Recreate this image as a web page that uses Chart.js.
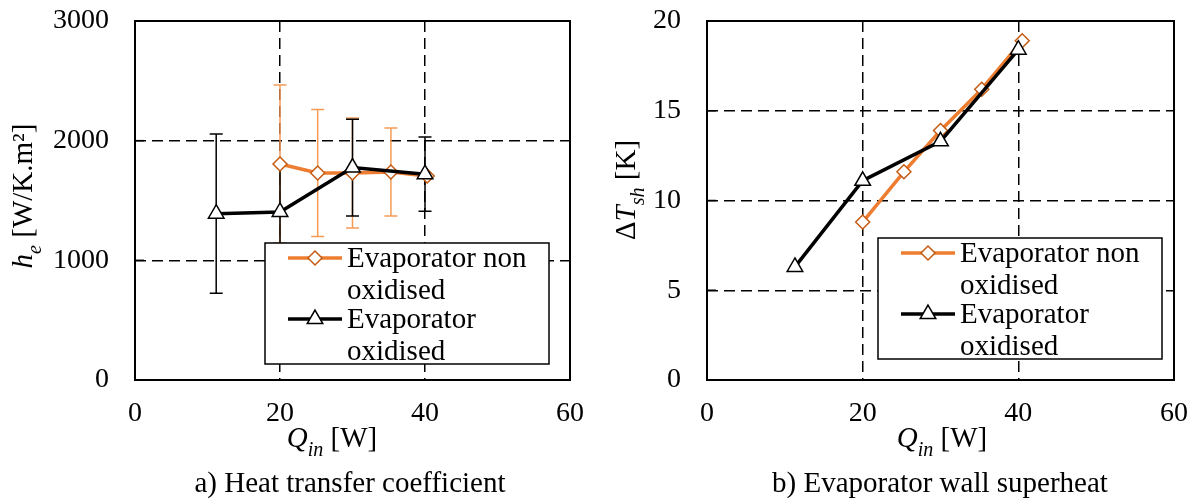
<!DOCTYPE html>
<html lang="en">
<head>
    <meta charset="UTF-8">
    <title>Evaporator heat transfer and wall superheat</title>
    <script src="https://cdn.jsdelivr.net/npm/chart.js"></script>
    <style>
        body { margin: 0; background: #fff; }
        #wrap { position: relative; width: 1199px; height: 500px; }
        canvas { position: absolute; top: 0; }
        .caption { position: absolute; top: 468px; font-family: "Liberation Serif", serif; font-size: 29px; line-height: 1; color: #000; transform: translateX(-50%); white-space: nowrap; }
    </style>
</head>
<body>
<div id="wrap">
    <canvas id="chartA" width="600" height="500" style="left:0"></canvas>
    <canvas id="chartB" width="599" height="500" style="left:600px"></canvas>
    <div class="caption" style="left:350px">a) Heat transfer coefficient</div>
    <div class="caption" style="left:940px">b) Evaporator wall superheat</div>
</div>
<script>
    const seriesNames = [['Evaporator non', 'oxidised'], ['Evaporator', 'oxidised']];

    // a) heat transfer coefficient h_e [W/K.m2]
    const qNonOxA = [20, 25.2, 30, 35.3, 40.3];
    const hNonOx = [1805, 1730, 1730, 1738, 1705];
    const hNonOxErr = [660, 530, 460, 368, null];
    const qOxA = [11.2, 20, 30, 40];
    const hOx = [1390, 1404, 1775, 1720];
    const hOxErr = [665, 400, 405, 310];

    // b) evaporator wall superheat dT_sh [K]
    const qNonOxB = [20, 25.3, 30, 35.3, 40.5];
    const dtNonOx = [8.8, 11.6, 13.9, 16.2, 18.9];
    const qOxB = [11.3, 20, 30, 40];
    const dtOx = [6.3, 11.1, 13.3, 18.4];

    const FONT = '"Liberation Serif", "Times New Roman", serif';
    const ORANGE = '#ED7D31';
    const ORANGE_EDGE = '#C55A11';
    const ORANGE_ERR = '#F59B55';

    function points(xs, ys) {
        return xs.map((x, i) => ({ x: x, y: ys[i] }));
    }

    // draws a run of text pieces (italic / subscript) centred on 0,0
    function drawRich(ctx, parts, size) {
        const fontOf = p => (p.italic ? 'italic ' : '') + (p.sub ? Math.round(size * 0.68) : size) + 'px ' + FONT;
        let total = 0;
        parts.forEach(p => { ctx.font = fontOf(p); total += ctx.measureText(p.t).width; });
        let x = -total / 2;
        ctx.fillStyle = '#000';
        ctx.textBaseline = 'alphabetic';
        ctx.textAlign = 'left';
        parts.forEach(p => {
            ctx.font = fontOf(p);
            ctx.fillText(p.t, x, p.sub ? size * 0.3 : 0);
            x += ctx.measureText(p.t).width;
        });
    }

    function drawMarker(ctx, style, x, y, r) {
        if (style === 'rectRot') {
            ctx.moveTo(x, y - r); ctx.lineTo(x + r, y); ctx.lineTo(x, y + r); ctx.lineTo(x - r, y); ctx.closePath();
        } else {
            ctx.moveTo(x, y - r); ctx.lineTo(x + r * 0.866, y + r * 0.5); ctx.lineTo(x - r * 0.866, y + r * 0.5); ctx.closePath();
        }
    }

    const extras = {
        id: 'extras',
        beforeDatasetsDraw(chart, args, opts) {
            const ctx = chart.ctx;
            const xs = chart.scales.x, ys = chart.scales.y;
            const a = chart.chartArea;
            // short inside tick marks on the y axis
            ctx.save();
            ctx.strokeStyle = '#000';
            ctx.lineWidth = 1.5;
            ys.ticks.forEach(t => {
                const py = ys.getPixelForValue(t.value);
                ctx.beginPath();
                ctx.moveTo(a.left, py); ctx.lineTo(a.left + 9, py);
                ctx.stroke();
            });
            ctx.restore();
            // error bars under the lines
            (opts.errors || []).forEach(e => {
                const ds = chart.data.datasets[e.dataset];
                ctx.save();
                ctx.strokeStyle = e.color;
                ctx.lineWidth = 1.5;
                ds.data.forEach((p, i) => {
                    const err = e.values[i];
                    if (err == null) return;
                    const px = xs.getPixelForValue(p.x);
                    const top = ys.getPixelForValue(p.y + err);
                    const bot = ys.getPixelForValue(p.y - err);
                    ctx.beginPath();
                    ctx.moveTo(px, top); ctx.lineTo(px, bot);
                    ctx.moveTo(px - 6.5, top); ctx.lineTo(px + 6.5, top);
                    ctx.moveTo(px - 6.5, bot); ctx.lineTo(px + 6.5, bot);
                    ctx.stroke();
                });
                ctx.restore();
            });
        },
        afterDatasetsDraw(chart, args, opts) {
            const ctx = chart.ctx;
            const a = chart.chartArea;
            // frame around the plot
            ctx.save();
            ctx.strokeStyle = '#000';
            ctx.lineWidth = 2;
            ctx.strokeRect(a.left, a.top, a.right - a.left, a.bottom - a.top);

            // legend box inside plot
            const L = opts.legend;
            ctx.fillStyle = '#fff';
            ctx.fillRect(L.x, L.y, L.w, L.h);
            ctx.lineWidth = 1.5;
            ctx.strokeRect(L.x, L.y, L.w, L.h);
            const rowY = [L.y + 15, L.y + 76];
            chart.data.datasets.forEach((ds, i) => {
                const y = rowY[i];
                ctx.strokeStyle = ds.borderColor;
                ctx.lineWidth = ds.borderWidth;
                ctx.beginPath();
                ctx.moveTo(L.x + 23, y); ctx.lineTo(L.x + 77, y);
                ctx.stroke();
                ctx.fillStyle = ds.pointBackgroundColor;
                ctx.strokeStyle = ds.pointBorderColor;
                ctx.lineWidth = ds.pointBorderWidth;
                ctx.beginPath();
                drawMarker(ctx, ds.pointStyle, L.x + 50, y, ds.pointRadius);
                ctx.fill(); ctx.stroke();
                ctx.fillStyle = '#000';
                ctx.font = '29px ' + FONT;
                ctx.textBaseline = 'middle';
                ctx.textAlign = 'left';
                seriesNames[i].forEach((line, k) => ctx.fillText(line, L.x + 82, y + 1 + k * 32));
            });
            ctx.restore();
        },
        afterDraw(chart, args, opts) {
            const ctx = chart.ctx;
            const t = opts.titles;
            ctx.save();
            ctx.translate(t.x.cx, t.x.cy);
            drawRich(ctx, t.x.parts, 29);
            ctx.restore();
            ctx.save();
            ctx.translate(t.y.cx, t.y.cy);
            ctx.rotate(-Math.PI / 2);
            drawRich(ctx, t.y.parts, 29);
            ctx.restore();
        }
    };

    function makeChart(id, d) {
        const gridColor = max => (c => (c.tick.value === 0 || c.tick.value === max) ? 'rgba(0,0,0,0)' : '#000');
        new Chart(document.getElementById(id), {
            type: 'scatter',
            data: {
                datasets: [{
                    label: seriesNames[0].join(' '),
                    data: points(d.q1, d.v1),
                    showLine: true,
                    borderColor: ORANGE,
                    borderWidth: 3.5,
                    pointStyle: 'rectRot',
                    pointRadius: 7,
                    pointBackgroundColor: '#fff',
                    pointBorderColor: ORANGE_EDGE,
                    pointBorderWidth: 1.5,
                    order: 1
                }, {
                    label: seriesNames[1].join(' '),
                    data: points(d.q2, d.v2),
                    showLine: true,
                    borderColor: '#000',
                    borderWidth: 3.5,
                    pointStyle: 'triangle',
                    pointRadius: 9,
                    pointBackgroundColor: '#fff',
                    pointBorderColor: '#000',
                    pointBorderWidth: 1.5,
                    order: 0
                }]
            },
            options: {
                responsive: false,
                animation: false,
                layout: { padding: { left: 0, top: 21, right: d.padRight, bottom: 0 } },
                scales: {
                    x: {
                        min: 0, max: 60,
                        ticks: { stepSize: 20, padding: 17, color: '#000', font: { family: FONT, size: 28 }, callback: v => String(v) },
                        grid: { color: gridColor(60), lineWidth: 1.5, drawTicks: false },
                        border: { display: false, dash: [11, 6] },
                        afterFit: s => { s.height = 120; s.paddingLeft = 0; s.paddingRight = 0; }
                    },
                    y: {
                        min: 0, max: d.yMax,
                        ticks: { stepSize: d.yStep, padding: 26, color: '#000', font: { family: FONT, size: 28 }, callback: v => String(v) },
                        grid: { color: gridColor(d.yMax), lineWidth: 1.5, drawTicks: false },
                        border: { display: false, dash: [11, 6] },
                        afterFit: s => { s.width = d.yWidth; s.paddingTop = 0; s.paddingBottom = 0; }
                    }
                },
                plugins: {
                    legend: { display: false },
                    tooltip: { enabled: false },
                    extras: { errors: d.errors, legend: d.legend, titles: d.titles }
                }
            },
            plugins: [extras]
        });
    }

    makeChart('chartA', {
        q1: qNonOxA, v1: hNonOx, q2: qOxA, v2: hOx,
        yMax: 3000, yStep: 1000, yWidth: 135, padRight: 30,
        errors: [
            { dataset: 0, values: hNonOxErr, color: ORANGE_ERR },
            { dataset: 1, values: hOxErr, color: '#000' }
        ],
        legend: { x: 265, y: 243, w: 284, h: 121 },
        titles: {
            x: { cx: 332, cy: 447, parts: [{ t: 'Q', italic: true }, { t: 'in', italic: true, sub: true }, { t: ' [W]' }] },
            y: { cx: 32, cy: 196, parts: [{ t: 'h', italic: true }, { t: 'e', italic: true, sub: true }, { t: ' [W/K.m²]' }] }
        }
    });

    makeChart('chartB', {
        q1: qNonOxB, v1: dtNonOx, q2: qOxB, v2: dtOx,
        yMax: 20, yStep: 5, yWidth: 107, padRight: 25,
        errors: [],
        legend: { x: 278, y: 238, w: 284, h: 121 },
        titles: {
            x: { cx: 342, cy: 447, parts: [{ t: 'Q', italic: true }, { t: 'in', italic: true, sub: true }, { t: ' [W]' }] },
            y: { cx: 35, cy: 190, parts: [{ t: 'Δ' }, { t: 'T', italic: true }, { t: 'sh', italic: true, sub: true }, { t: ' [K]' }] }
        }
    });
</script>
</body>
</html>
